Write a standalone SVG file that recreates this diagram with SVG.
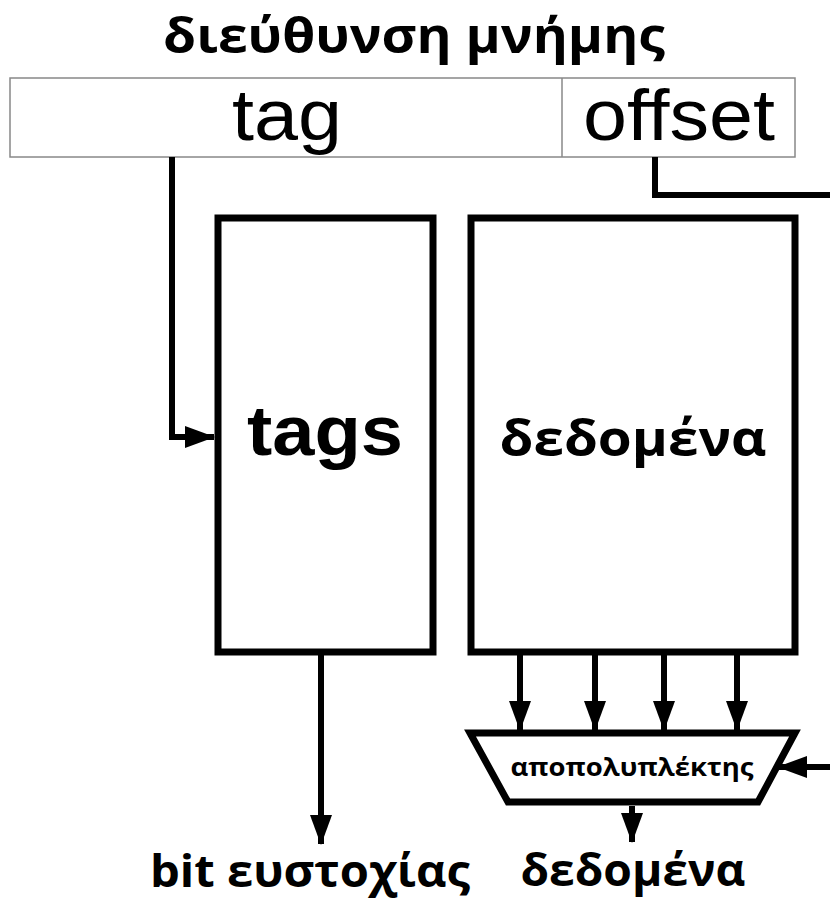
<svg xmlns="http://www.w3.org/2000/svg" width="830" height="901" viewBox="0 0 830 901">
  <style>
    .title { font-family: "Open Sans", "Liberation Sans", Arial, sans-serif; font-weight: bold; }
    .field { font-family: "Liberation Sans", Arial, sans-serif; }
    .label { font-family: "Open Sans", "DejaVu Sans", sans-serif; font-weight: bold; }
    .block { fill: #fff; stroke: #000; stroke-width: 7; }
    .wire { fill: none; stroke: #000; stroke-width: 6; stroke-linejoin: miter; }
  </style>
  <defs>
    <marker id="head" viewBox="0 0 30 22" refX="29" refY="11" markerWidth="30" markerHeight="22" orient="auto" markerUnits="userSpaceOnUse">
      <path d="M0,0 L30,11 L0,22 Z" fill="#000"/>
    </marker>
  </defs>
  <rect width="830" height="901" fill="#fff"/>

  <!-- address word -->
  <g id="address">
    <text class="title" x="414" y="53" font-size="48" text-anchor="middle" textLength="502" lengthAdjust="spacingAndGlyphs">διεύθυνση μνήμης</text>
    <rect x="10" y="78" width="785" height="79" fill="#fff" stroke="#888" stroke-width="1.5"/>
    <line x1="562" y1="78" x2="562" y2="157" stroke="#888" stroke-width="1.5"/>
    <text class="field" x="287" y="140" font-size="72" text-anchor="middle" textLength="110" lengthAdjust="spacingAndGlyphs">tag</text>
    <text class="field" x="679" y="140" font-size="72" text-anchor="middle" textLength="192" lengthAdjust="spacingAndGlyphs">offset</text>
  </g>

  <!-- tag array -->
  <g id="tags">
    <rect class="block" x="218" y="218" width="215" height="434"/>
    <text class="field" x="325" y="455" font-weight="bold" font-size="70" text-anchor="middle" textLength="156" lengthAdjust="spacingAndGlyphs">tags</text>
  </g>

  <!-- data array -->
  <g id="data">
    <rect class="block" x="471" y="218" width="324" height="434"/>
    <text class="label" x="633" y="456" font-size="50" text-anchor="middle" textLength="267" lengthAdjust="spacingAndGlyphs">δεδομένα</text>
  </g>

  <!-- demultiplexer -->
  <g id="demux">
    <path class="block" d="M470,733 L795,733 L758,802 L508,802 Z"/>
    <text class="label" x="632" y="776" font-size="25" text-anchor="middle" textLength="243" lengthAdjust="spacingAndGlyphs">αποπολυπλέκτης</text>
  </g>

  <!-- output labels -->
  <g id="hit">
    <text class="label" x="310" y="887" font-size="44" text-anchor="middle" textLength="320" lengthAdjust="spacingAndGlyphs">bit ευστοχίας</text>
  </g>
  <g id="dataout">
    <text class="label" x="633" y="886" font-size="44" text-anchor="middle" textLength="225" lengthAdjust="spacingAndGlyphs">δεδομένα</text>
  </g>

  <!-- connectors -->
  <g id="connectors">
    <polyline class="wire" points="172,157 172,437 214,437" marker-end="url(#head)"/>
    <polyline class="wire" points="655,157 655,195 830,195"/>
    <line class="wire" x1="321" y1="655" x2="321" y2="844" marker-end="url(#head)"/>
    <line class="wire" x1="520" y1="655" x2="520" y2="730" marker-end="url(#head)"/>
    <line class="wire" x1="595" y1="655" x2="595" y2="730" marker-end="url(#head)"/>
    <line class="wire" x1="664" y1="655" x2="664" y2="730" marker-end="url(#head)"/>
    <line class="wire" x1="737" y1="655" x2="737" y2="730" marker-end="url(#head)"/>
    <line class="wire" x1="830" y1="767" x2="778" y2="767" marker-end="url(#head)"/>
    <line class="wire" x1="632" y1="806" x2="632" y2="842" marker-end="url(#head)"/>
  </g>
</svg>
